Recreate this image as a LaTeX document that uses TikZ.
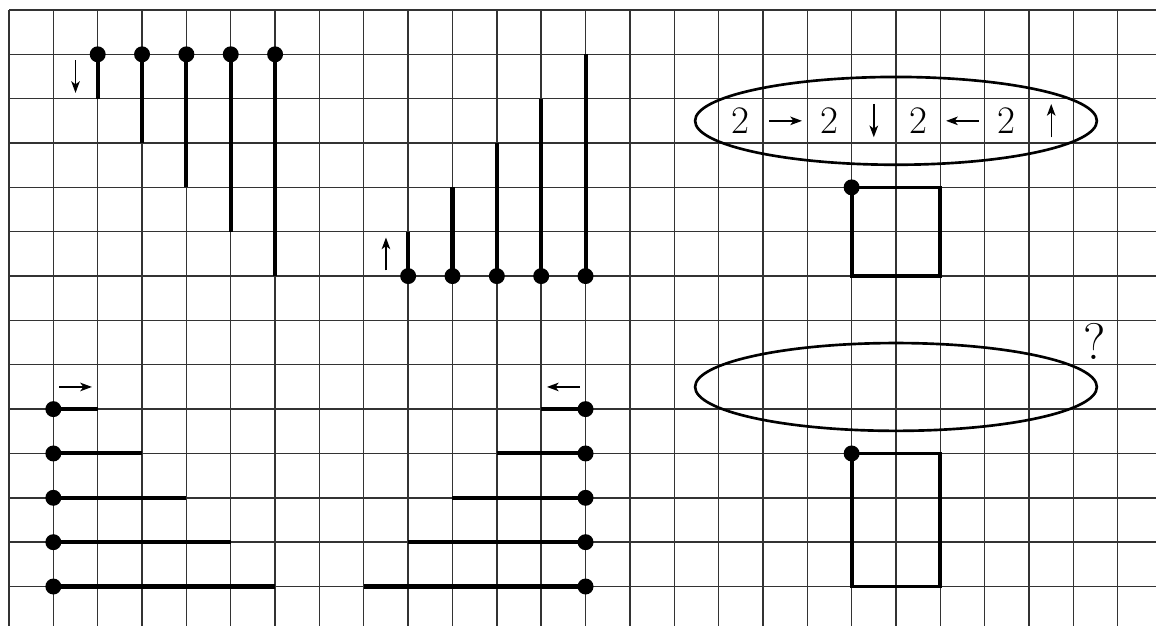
\documentclass[tikz,border=0pt]{standalone}
\usetikzlibrary{arrows.meta}
\begin{document}
\begin{tikzpicture}[x=1cm,y=-1cm,
  gridline/.style={line width=0.9pt,draw=black!80},
  stem/.style={line width=2.6pt,line cap=butt},
  dotmark/.style={fill=black},
  smallarrow/.style={line width=0.9pt,-{Stealth[length=7.5pt,width=5.5pt,inset=2pt]}},
  oval/.style={line width=1.7pt},
  boxline/.style={line width=2.4pt},
  digit/.style={font=\fontsize{25}{30}\selectfont,inner sep=0pt},
  qmark/.style={font=\fontsize{33}{38}\selectfont,inner sep=0pt}]
\useasboundingbox (-0.203,-0.225) rectangle (25.863,13.89);
% grid
\foreach \i in {0,...,25} \draw[gridline] (\i,0) -- (\i,13.89);
\foreach \j in {0,...,13} \draw[gridline] (0,\j) -- (25.863,\j);
% top-left: downward stems
\foreach \k in {1,...,5} {
  \draw[stem] (\k+1,1) -- (\k+1,1+\k);
  \fill[dotmark] (\k+1,1) circle (0.18);
}
\draw[smallarrow] (1.5,1.13) -- (1.5,1.87);
% top-middle: upward stems
\foreach \k in {1,...,5} {
  \draw[stem] (\k+8,6) -- (\k+8,6-\k);
  \fill[dotmark] (\k+8,6) circle (0.18);
}
\draw[smallarrow] (8.5,5.87) -- (8.5,5.13);
% bottom-left: rightward stems
\foreach \k in {1,...,5} {
  \draw[stem] (1,\k+8) -- (1+\k,\k+8);
  \fill[dotmark] (1,\k+8) circle (0.18);
}
\draw[smallarrow] (1.13,8.5) -- (1.87,8.5);
% bottom-middle: leftward stems
\foreach \k in {1,...,5} {
  \draw[stem] (13,\k+8) -- (13-\k,\k+8);
  \fill[dotmark] (13,\k+8) circle (0.18);
}
\draw[smallarrow] (12.87,8.5) -- (12.13,8.5);
% top-right ellipse with rule
\draw[oval] (20,2.5) ellipse [x radius=4.53, y radius=0.99];
\node[digit] (d1) at (16.5,2.5) {2};
\node[digit] (d2) at (18.5,2.5) {2};
\node[digit] (d3) at (20.5,2.5) {2};
\node[digit] (d4) at (22.5,2.5) {2};
\draw[smallarrow] (17.14,2.5) -- (17.88,2.5);
\draw[smallarrow] (19.5,2.12) -- (19.5,2.87);
\draw[smallarrow] (21.87,2.5) -- (21.13,2.5);
\draw[smallarrow] (23.5,2.87) -- (23.5,2.12);
% square
\draw[boxline] (19,4) rectangle (21,6);
\fill[dotmark] (19,4) circle (0.18);
% bottom-right ellipse
\draw[oval] (20,8.5) ellipse [x radius=4.53, y radius=0.99];
\node[qmark] (q) at (24.49,7.47) {?};
% rectangle
\draw[boxline] (19,10) rectangle (21,13);
\fill[dotmark] (19,10) circle (0.18);
\end{tikzpicture}
\end{document}
